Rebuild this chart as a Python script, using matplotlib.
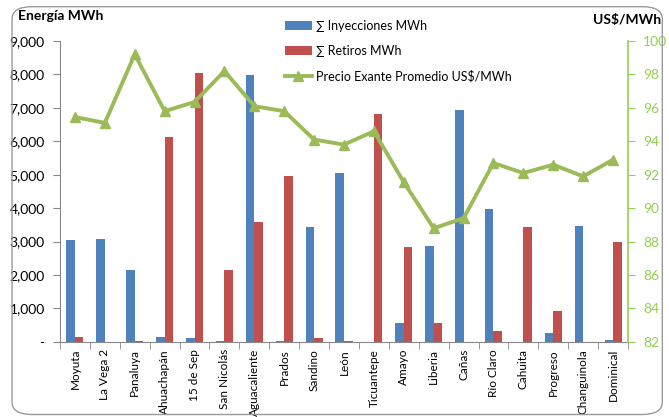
import matplotlib
matplotlib.use("Agg")
import matplotlib.pyplot as plt
import numpy as np
from matplotlib.patches import FancyBboxPatch
from matplotlib.ticker import FuncFormatter, FixedLocator

plantas = ["Moyuta", "La Vega 2", "Panaluya", "Ahuachapán", "15 de Sep", "San Nicolás",
           "Aguacaliente", "Prados", "Sandino", "León", "Ticuantepe", "Amayo", "Liberia",
           "Cañas", "Río Claro", "Cahuita", "Progreso", "Changuinola", "Dominical"]
inyecciones = [3050, 3080, 2150, 150, 120, 15, 7980, 20, 3450, 5060, 0, 570, 2870,
               6950, 3970, 0, 260, 3460, 50]
retiros = [160, 0, 15, 6130, 8030, 2150, 3580, 4950, 120, 20, 6820, 2830, 560,
           0, 320, 3450, 920, 0, 3000]
precio = [95.45, 95.1, 99.2, 95.8, 96.35, 98.2, 96.1, 95.8, 94.1, 93.8, 94.6, 91.55,
          88.8, 89.4, 92.7, 92.1, 92.6, 91.9, 92.9]

azul = "#4F81BD"
rojo = "#C0504D"
verde = "#9BBB59"
verde_txt = "#92D050"

plt.rcParams["font.family"] = ["Lato", "DejaVu Sans"]

fig = plt.figure(figsize=(6.69, 4.17), dpi=100)
fig.patches.append(FancyBboxPatch((0.018, 0.006), 0.972, 0.978,
                                  boxstyle="round,pad=0,rounding_size=0.03",
                                  transform=fig.transFigure, facecolor="none",
                                  edgecolor="#9A9A9A", linewidth=1.0))

ax = fig.add_axes([0.0897, 0.18, 0.849, 0.7218])
x = np.arange(len(plantas))
w = 0.285
b1 = ax.bar(x - w / 2, inyecciones, w, color=azul, label="∑ Inyecciones MWh")
b2 = ax.bar(x + w / 2, retiros, w, color=rojo, label="∑ Retiros MWh")

ax.set_xlim(-0.5, len(plantas) - 0.5)
ax.set_ylim(0, 9000)
ax.set_yticks(np.arange(0, 9001, 1000))
ax.yaxis.set_major_formatter(FuncFormatter(lambda v, p: "-" if v == 0 else f"{v:,.0f}"))
ax.set_xticks(x)
ax.set_xticklabels(plantas, rotation=90, fontsize=8.5)
ax.xaxis.set_minor_locator(FixedLocator(np.arange(-0.5, len(plantas), 1)))
ax.tick_params(axis="x", which="major", length=0, pad=5)
ax.tick_params(axis="x", which="minor", length=5, color="#888888")
ax.tick_params(axis="y", length=5, color="#888888", labelsize=10, pad=6)
for s in ["top", "right"]:
    ax.spines[s].set_visible(False)
ax.spines["left"].set_color("#888888")
ax.spines["bottom"].set_color("#888888")

ax2 = ax.twinx()
ln, = ax2.plot(x, precio, color=verde, linewidth=2.8, marker="^", markersize=7,
               label="Precio Exante Promedio US$/MWh")
ax2.set_ylim(82, 100)
ax2.set_yticks(np.arange(82, 101, 2))
ax2.tick_params(axis="y", length=5, color=verde_txt, labelcolor=verde_txt, labelsize=10, pad=6)
for s in ["top", "left", "bottom"]:
    ax2.spines[s].set_visible(False)
ax2.spines["right"].set_color(verde_txt)
ax2.spines["right"].set_linewidth(1.2)

fig.text(0.027, 0.962, "Energía MWh", fontsize=10, fontweight="bold", va="center")
fig.text(0.988, 0.952, "US$/MWh", fontsize=10, fontweight="bold", va="center", ha="right")

fig.legend(handles=[b1, b2, ln], loc="upper left", bbox_to_anchor=(0.418, 0.965),
           frameon=False, fontsize=9, labelspacing=1.05, handlelength=2.2,
           handletextpad=0.3, borderaxespad=0)

fig.savefig("out.png", dpi=100)
